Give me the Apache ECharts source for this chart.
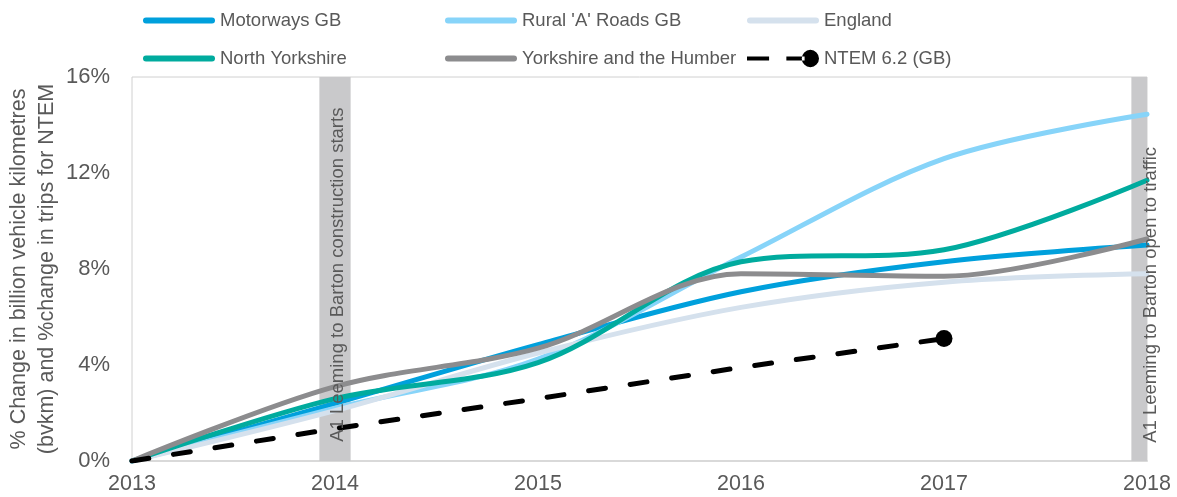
<!DOCTYPE html>
<html>
<head>
<meta charset="utf-8">
<script src="https://cdn.jsdelivr.net/npm/echarts@6/dist/echarts.min.js"></script>
<style>
  html, body { margin: 0; padding: 0; background: #fff; }
  #chart { width: 1177px; height: 497px; }
</style>
</head>
<body>
<div id="chart"></div>
<script>
// values, % change since 2013
var years = [2013, 2014, 2015, 2016, 2017, 2018]
var motorwaysGB = [0, 2.4, 4.85, 7.05, 8.3, 9.0]
var ruralA = [0, 2.2, 4.25, 8.5, 12.6, 14.45]
var england = [0, 2.1, 4.5, 6.4, 7.45, 7.8]
var northYorks = [0, 2.6, 4.1, 8.3, 8.8, 11.7]
var yorksHumber = [0, 3.1, 4.7, 7.8, 7.7, 9.25]
var ntem = [0, 1.35, 2.6, 3.9, 5.1]
var yTicks = [0, 4, 8, 12, 16]
var events = [
  { year: 2014, text: 'A1 Leeming to Barton construction starts', gap: -12 },
  { year: 2018, text: 'A1 Leeming to Barton open to traffic', gap: -13 }
]

var font = 'Liberation Sans, Arial, sans-serif'
var grey = '#595959'
var lineIcon = 'path://M3,0H69A3,3 0 0,1 69,6H3A3,3 0 0,1 3,0Z'
var ntemIcon = 'path://M0,7H23V11H0Z M41,7H60V11H41Z M57,9A9,9 0 1,0 75,9A9,9 0 1,0 57,9Z'

function pairs (vals) {
  return vals.map(function (v, i) { return [years[i], v] })
}

function lineSeries (name, vals, color) {
  return {
    name: name,
    type: 'line',
    data: pairs(vals),
    smooth: 0.33,
    symbol: 'none',
    lineStyle: { color: color, width: 5, cap: 'round' },
    itemStyle: { color: color }
  }
}

// last NTEM point gets the round marker
var ntemData = pairs(ntem)
ntemData[ntemData.length - 1] = {
  value: ntemData[ntemData.length - 1],
  symbol: 'circle',
  symbolSize: 17
}

var bandHalf = 0.077
var bands = events.map(function (e) {
  return [{ xAxis: e.year - bandHalf }, { xAxis: Math.min(e.year + bandHalf, 2018) }]
})
var bandLabels = events.map(function (e) {
  return [
    { name: e.text, coord: [e.year, 1.3], label: { distance: e.gap } },
    { coord: [e.year, 16] }
  ]
})

function legendCol (left, names) {
  return {
    orient: 'vertical',
    left: left,
    top: 11,
    padding: 0,
    itemWidth: 72,
    itemHeight: 18,
    itemGap: 19,
    textStyle: { fontFamily: font, fontSize: 18.5, color: grey },
    data: names.map(function (n) {
      return { name: n, icon: n === 'NTEM 6.2 (GB)' ? ntemIcon : lineIcon }
    })
  }
}

var chart = echarts.init(document.getElementById('chart'))
chart.setOption({
  animation: false,
  textStyle: { fontFamily: font },
  legend: [
    legendCol(143, ['Motorways GB', 'North Yorkshire']),
    legendCol(445, ["Rural 'A' Roads GB", 'Yorkshire and the Humber']),
    legendCol(747, ['England', 'NTEM 6.2 (GB)'])
  ],
  grid: {
    left: 132, right: 30, top: 77, bottom: 36,
    outerBoundsMode: 'none',
    containLabel: false,
    show: true, borderColor: '#d0d0d0', borderWidth: 1
  },
  xAxis: {
    type: 'value',
    min: 2013, max: 2018, interval: 1,
    axisLine: { lineStyle: { color: '#d9d9d9', width: 2 } },
    axisTick: { show: false },
    splitLine: { show: false },
    axisLabel: {
      fontSize: 21.5, color: grey, margin: 12, fontFamily: font,
      formatter: function (v) { return String(v) }
    }
  },
  yAxis: {
    type: 'value',
    min: yTicks[0], max: yTicks[yTicks.length - 1], interval: 4,
    name: '% Change in billion vehicle kilometres\n(bvkm) and %change in trips for NTEM',
    nameLocation: 'middle',
    nameGap: 71,
    nameMoveOverlap: false,
    nameTextStyle: { fontSize: 21.5, color: grey, lineHeight: 28, fontFamily: font },
    axisLine: { show: false },
    axisTick: { show: false },
    splitLine: { show: false },
    axisLabel: { fontSize: 22, color: grey, margin: 22, fontFamily: font, formatter: '{value}%' }
  },
  series: [
    {
      name: 'bands',
      type: 'line',
      data: [],
      silent: true,
      markArea: {
        silent: true,
        itemStyle: { color: '#c9c9cb' },
        data: bands
      },
      markLine: {
        silent: true,
        symbol: 'none',
        lineStyle: { color: 'rgba(0,0,0,0)', width: 1 },
        label: {
          show: true,
          formatter: '{b}',
          position: 'insideStartTop',
          fontSize: 18.5,
          color: grey,
          fontFamily: font
        },
        data: bandLabels
      }
    },
    lineSeries('Motorways GB', motorwaysGB, '#00a0dc'),
    lineSeries("Rural 'A' Roads GB", ruralA, '#87d4f9'),
    lineSeries('England', england, '#d5e1ed'),
    lineSeries('North Yorkshire', northYorks, '#00ab9e'),
    lineSeries('Yorkshire and the Humber', yorksHumber, '#8c8c8e'),
    {
      name: 'NTEM 6.2 (GB)',
      type: 'line',
      data: ntemData,
      symbol: 'none',
      lineStyle: { color: '#000', width: 5, type: [17, 25], cap: 'round' },
      itemStyle: { color: '#000' }
    }
  ]
})
</script>
</body>
</html>
